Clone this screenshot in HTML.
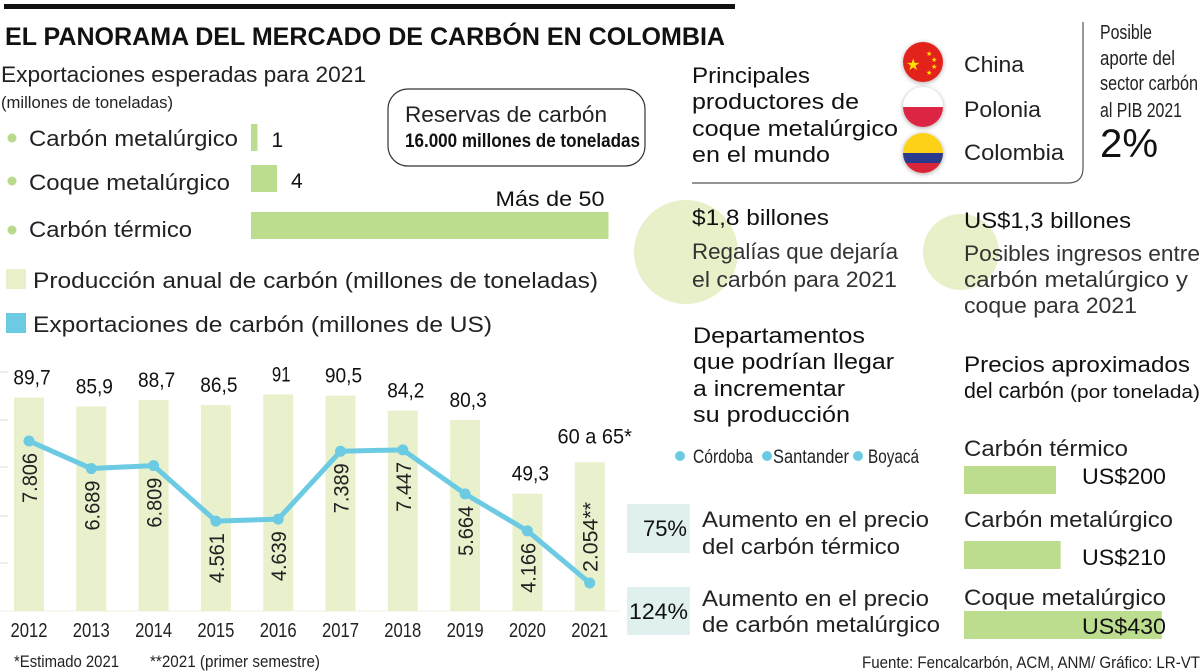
<!DOCTYPE html>
<html><head><meta charset="utf-8"><style>
html,body{margin:0;padding:0;background:#fff;}
svg{display:block;font-family:"Liberation Sans",sans-serif;}
</style></head><body>
<svg id="info" width="1200" height="672" viewBox="0 0 1200 672" xmlns="http://www.w3.org/2000/svg">
<defs>
<clipPath id="c2"><circle cx="923" cy="107" r="20"/></clipPath>
<clipPath id="c3"><circle cx="923" cy="153" r="20"/></clipPath>
<filter id="sh" x="-50%" y="-50%" width="200%" height="200%"><feDropShadow dx="0" dy="1" stdDeviation="2.5" flood-color="#000" flood-opacity="0.35"/></filter>
</defs>
<rect x="4" y="4" width="731" height="5" fill="#111"/>
<text x="5" y="45" font-size="25" font-weight="bold" fill="#111" textLength="720" lengthAdjust="spacingAndGlyphs">EL PANORAMA DEL MERCADO DE CARBÓN EN COLOMBIA</text>

<g>
<text x="1" y="82" font-size="22" fill="#222" textLength="365" lengthAdjust="spacingAndGlyphs">Exportaciones esperadas para 2021</text>
<text x="1" y="108" font-size="17" fill="#222" textLength="172" lengthAdjust="spacingAndGlyphs">(millones de toneladas)</text>
<circle cx="12" cy="138" r="4.5" fill="#b9d98d"/>
<circle cx="12" cy="181" r="4.5" fill="#b9d98d"/>
<circle cx="12" cy="230" r="4.5" fill="#b9d98d"/>
<text x="29" y="146" font-size="22" fill="#222" textLength="209" lengthAdjust="spacingAndGlyphs">Carbón metalúrgico</text>
<text x="29" y="190" font-size="22" fill="#222" textLength="201" lengthAdjust="spacingAndGlyphs">Coque metalúrgico</text>
<text x="29" y="237" font-size="22" fill="#222" textLength="163" lengthAdjust="spacingAndGlyphs">Carbón térmico</text>
<g id="expBars"></g>
</g>

<g>
<rect x="388" y="89" width="257" height="77" rx="20" fill="none" stroke="#333" stroke-width="1.2"/>
<text x="405" y="122" font-size="22" fill="#222" textLength="202" lengthAdjust="spacingAndGlyphs">Reservas de carbón</text>
<text x="405" y="147" font-size="19" font-weight="bold" fill="#111" textLength="235" lengthAdjust="spacingAndGlyphs">16.000 millones de toneladas</text>
</g>

<rect x="6" y="269" width="20" height="20" fill="#e9f1cc"/>
<text x="33" y="288" font-size="22" fill="#222" textLength="565" lengthAdjust="spacingAndGlyphs">Producción anual de carbón (millones de toneladas)</text>
<rect x="6" y="313" width="20" height="20" fill="#6ccbe2"/>
<text x="33" y="332" font-size="22" fill="#222" textLength="459" lengthAdjust="spacingAndGlyphs">Exportaciones de carbón  (millones de US)</text>

<g id="chart"></g>
<text x="14" y="667" font-size="17" fill="#222" textLength="105" lengthAdjust="spacingAndGlyphs">*Estimado 2021</text>
<text x="150" y="667" font-size="17" fill="#222" textLength="170" lengthAdjust="spacingAndGlyphs">**2021 (primer semestre)</text>

<g>
<text font-size="22" fill="#111">
<tspan x="692" y="83" textLength="118" lengthAdjust="spacingAndGlyphs">Principales</tspan>
<tspan x="692" y="109" textLength="167" lengthAdjust="spacingAndGlyphs">productores de</tspan>
<tspan x="692" y="136" textLength="206" lengthAdjust="spacingAndGlyphs">coque metalúrgico</tspan>
<tspan x="692" y="162" textLength="138" lengthAdjust="spacingAndGlyphs">en el mundo</tspan></text>
<g filter="url(#sh)"><circle cx="923" cy="62" r="20" fill="#e3221f"/></g>
<text x="906" y="70" font-size="16" fill="#ffe000">★</text>
<text x="926" y="56" font-size="7" fill="#ffe000">★</text><text x="931" y="62" font-size="7" fill="#ffe000">★</text><text x="931" y="69" font-size="7" fill="#ffe000">★</text><text x="926" y="75" font-size="7" fill="#ffe000">★</text>
<g filter="url(#sh)"><circle cx="923" cy="107" r="20" fill="#fff"/></g>
<rect x="900" y="107" width="46" height="21" fill="#dc2443" clip-path="url(#c2)"/>
<g filter="url(#sh)"><circle cx="923" cy="153" r="20" fill="#fcd116"/></g>
<rect x="900" y="153" width="46" height="10" fill="#2a3a8c" clip-path="url(#c3)"/>
<rect x="900" y="163" width="46" height="12" fill="#d8253a" clip-path="url(#c3)"/>
<text x="964" y="72" font-size="22" fill="#222" textLength="60" lengthAdjust="spacingAndGlyphs">China</text>
<text x="964" y="117" font-size="22" fill="#222" textLength="77" lengthAdjust="spacingAndGlyphs">Polonia</text>
<text x="964" y="160" font-size="22" fill="#222" textLength="100" lengthAdjust="spacingAndGlyphs">Colombia</text>
<path d="M692 183 H1068 Q1083 183 1083 168 V22" fill="none" stroke="#555" stroke-width="1.2"/>
</g>

<g>
<text font-size="20" fill="#222">
<tspan x="1100" y="39" textLength="52" lengthAdjust="spacingAndGlyphs">Posible</tspan>
<tspan x="1100" y="65" textLength="75" lengthAdjust="spacingAndGlyphs">aporte del</tspan>
<tspan x="1100" y="90" textLength="98" lengthAdjust="spacingAndGlyphs">sector carbón</tspan>
<tspan x="1100" y="117" textLength="82" lengthAdjust="spacingAndGlyphs">al PIB 2021</tspan></text>
<text x="1100" y="157" font-size="40" fill="#111" textLength="58" lengthAdjust="spacingAndGlyphs">2%</text>
</g>

<circle cx="686" cy="252" r="52" fill="#e7f0c8"/>
<circle cx="961" cy="252" r="38" fill="#e7f0c8"/>
<text x="692" y="225" font-size="22" fill="#111" textLength="137" lengthAdjust="spacingAndGlyphs">$1,8 billones</text>
<text font-size="22" fill="#333"><tspan x="692" y="259" textLength="206" lengthAdjust="spacingAndGlyphs">Regalías que dejaría</tspan><tspan x="692" y="287" textLength="205" lengthAdjust="spacingAndGlyphs">el carbón para 2021</tspan></text>
<text x="964" y="228" font-size="22" fill="#111" textLength="167" lengthAdjust="spacingAndGlyphs">US$1,3 billones</text>
<text font-size="22" fill="#333"><tspan x="964" y="261" textLength="236" lengthAdjust="spacingAndGlyphs">Posibles ingresos entre</tspan><tspan x="964" y="287" textLength="224" lengthAdjust="spacingAndGlyphs">carbón metalúrgico y</tspan><tspan x="964" y="313" textLength="173" lengthAdjust="spacingAndGlyphs">coque para 2021</tspan></text>

<text font-size="22" fill="#111">
<tspan x="693" y="343" textLength="172" lengthAdjust="spacingAndGlyphs">Departamentos</tspan>
<tspan x="693" y="369" textLength="201" lengthAdjust="spacingAndGlyphs">que podrían llegar</tspan>
<tspan x="693" y="396" textLength="152" lengthAdjust="spacingAndGlyphs">a incrementar</tspan>
<tspan x="693" y="422" textLength="157" lengthAdjust="spacingAndGlyphs">su producción</tspan></text>
<circle cx="680" cy="456" r="5" fill="#6ccbe2"/>
<text x="693" y="463" font-size="19" fill="#222" textLength="60" lengthAdjust="spacingAndGlyphs">Córdoba</text>
<circle cx="767" cy="456" r="5" fill="#6ccbe2"/>
<text x="773" y="463" font-size="19" fill="#222" textLength="76" lengthAdjust="spacingAndGlyphs">Santander</text>
<circle cx="858" cy="456" r="5" fill="#6ccbe2"/>
<text x="868" y="463" font-size="19" fill="#222" textLength="51" lengthAdjust="spacingAndGlyphs">Boyacá</text>

<rect x="627" y="504" width="63" height="49" fill="#dff0ee"/>
<text x="687" y="536" font-size="22" fill="#111" text-anchor="end">75%</text>
<text font-size="22" fill="#222"><tspan x="702" y="527" textLength="227" lengthAdjust="spacingAndGlyphs">Aumento en el precio</tspan><tspan x="702" y="554" textLength="198" lengthAdjust="spacingAndGlyphs">del carbón térmico</tspan></text>
<rect x="627" y="587" width="63" height="48" fill="#dff0ee"/>
<text x="629" y="619" font-size="22" fill="#111" textLength="59" lengthAdjust="spacingAndGlyphs">124%</text>
<text font-size="22" fill="#222"><tspan x="702" y="606" textLength="227" lengthAdjust="spacingAndGlyphs">Aumento en el precio</tspan><tspan x="702" y="632" textLength="238" lengthAdjust="spacingAndGlyphs">de carbón metalúrgico</tspan></text>

<text x="964" y="372" font-size="22" fill="#111" textLength="226" lengthAdjust="spacingAndGlyphs">Precios aproximados</text>
<text x="964" y="398" font-size="22" fill="#111"><tspan textLength="100" lengthAdjust="spacingAndGlyphs">del carbón</tspan><tspan x="1070" y="398" font-size="18" textLength="130" lengthAdjust="spacingAndGlyphs">(por tonelada)</tspan></text>
<g id="priceBars"></g>

<text x="1200" y="668" font-size="17" fill="#222" text-anchor="end" textLength="338" lengthAdjust="spacingAndGlyphs">Fuente: Fencalcarbón, ACM, ANM/ Gráfico: LR-VT</text>
</svg>
<script>
const NS = "http://www.w3.org/2000/svg";
const years = ["2012","2013","2014","2015","2016","2017","2018","2019","2020","2021"];
const production = [89.7, 85.9, 88.7, 86.5, 91, 90.5, 84.2, 80.3, 49.3, 62.5];
const productionLabels = ["89,7","85,9","88,7","86,5","91","90,5","84,2","80,3","49,3","60 a 65*"];
const exportsUS = [7806, 6689, 6809, 4561, 4639, 7389, 7447, 5664, 4166, 2054];
const exportsLabels = ["7.806","6.689","6.809","4.561","4.639","7.389","7.447","5.664","4.166","2.054**"];
const expCats = ["Carbón metalúrgico","Coque metalúrgico","Carbón térmico"];
const expValues = [1, 4, 55];
const expLabels = ["1","4","Más de 50"];
const priceCats = ["Carbón térmico","Carbón metalúrgico","Coque metalúrgico"];
const priceValues = [200, 210, 430];
const priceLabels = ["US$200","US$210","US$430"];

function mk(tag, parent){ const e = document.createElementNS(NS, tag); parent.appendChild(e); return e; }

const chart = document.getElementById("chart");
const x0 = 29, step = 62.3, baseY = 611;
const xPos = i => x0 + i * step;
const yProd = v => baseY - v * 2.38;
const yExp = v => 633.7 - v * 0.02469;
[372,420,467,516,563,611].forEach(gy => {
  const t = mk("line", chart);
  
  
  t.setAttribute("x1", 0); t.setAttribute("x2", gy===611?620:8);
  t.setAttribute("y1", gy); t.setAttribute("y2", gy);
  t.setAttribute("stroke", gy===611?"#eef3dc":"#ddd"); t.setAttribute("stroke-width", 1);
});
production.forEach((v, i) => {
  const r = mk("rect", chart);
  
  
  r.setAttribute("x", xPos(i) - 15); r.setAttribute("width", 30);
  r.setAttribute("y", yProd(v)); r.setAttribute("height", baseY - yProd(v));
  r.setAttribute("fill", "#e9f1cc");
  const t = mk("text", chart);
  
  
  t.setAttribute("x", xPos(i) + (i===9?5:3)); t.setAttribute("y", yProd(v) - (i===9?19:13));
  t.setAttribute("text-anchor", "middle"); t.setAttribute("font-size", "21");
  t.setAttribute("fill", "#111");
  t.setAttribute("textLength", productionLabels[i].length * 9.3);
  t.setAttribute("lengthAdjust", "spacingAndGlyphs");
  t.textContent = productionLabels[i];
  const yl = mk("text", chart);
  
  
  yl.setAttribute("x", xPos(i)); yl.setAttribute("y", 637);
  yl.setAttribute("text-anchor", "middle"); yl.setAttribute("font-size", "20");
  yl.setAttribute("fill", "#222"); yl.setAttribute("textLength", "37");
  yl.setAttribute("lengthAdjust", "spacingAndGlyphs");
  yl.textContent = years[i];
});
const pl = mk("polyline", chart);


pl.setAttribute("points", exportsUS.map((v, i) => xPos(i) + "," + yExp(v)).join(" "));
pl.setAttribute("fill", "none"); pl.setAttribute("stroke", "#6ccbe2");
pl.setAttribute("stroke-width", "5"); pl.setAttribute("stroke-linejoin", "round");
exportsUS.forEach((v, i) => {
  const c = mk("circle", chart);
  
  
  c.setAttribute("cx", xPos(i)); c.setAttribute("cy", yExp(v)); c.setAttribute("r", 5.5);
  c.setAttribute("fill", "#6ccbe2");
  const cy = i === 9 ? yExp(v) - 46 : yExp(v) + 37;
  const len = exportsLabels[i].length * 10;
  const t = mk("text", chart);
  
  
  t.setAttribute("transform", "translate(" + (xPos(i) + 8) + "," + cy + ") rotate(-90)");
  t.setAttribute("text-anchor", "middle"); t.setAttribute("font-size", "21");
  t.setAttribute("fill", "#222"); t.setAttribute("textLength", len);
  t.setAttribute("lengthAdjust", "spacingAndGlyphs");
  t.textContent = exportsLabels[i];
});

const eb = document.getElementById("expBars");
const eY = [124, 165, 212];
expValues.forEach((v, i) => {
  const r = mk("rect", eb);
  
  
  r.setAttribute("x", 251); r.setAttribute("y", eY[i]);
  r.setAttribute("width", v * 6.5); r.setAttribute("height", 27);
  r.setAttribute("fill", "#bcdc8e");
  const t = mk("text", eb);
  
  
  t.setAttribute("font-size", "21"); t.setAttribute("fill", "#111");
  if (i === 2) {
    t.setAttribute("x", 251 + v * 6.5 - 4); t.setAttribute("y", 206);
    t.setAttribute("text-anchor", "end"); t.setAttribute("textLength", "109");
    t.setAttribute("lengthAdjust", "spacingAndGlyphs");
  } else {
    t.setAttribute("x", 251 + v * 6.5 + 14); t.setAttribute("y", eY[i] + 23);
  }
  t.textContent = expLabels[i];
});

const pb = document.getElementById("priceBars");
const pLabY = [456, 527, 605], pBarY = [466, 541, 611], pValY = [484, 565, 634];
priceValues.forEach((v, i) => {
  const l = mk("text", pb);
  
  
  l.setAttribute("x", 964); l.setAttribute("y", pLabY[i]);
  l.setAttribute("font-size", "22"); l.setAttribute("fill", "#222");
  l.setAttribute("textLength", [164, 209, 202][i]);
  l.setAttribute("lengthAdjust", "spacingAndGlyphs");
  l.textContent = priceCats[i];
  const r = mk("rect", pb);
  
  
  r.setAttribute("x", 964); r.setAttribute("y", pBarY[i]);
  r.setAttribute("width", v * 0.46); r.setAttribute("height", 28);
  r.setAttribute("fill", "#bcdc8e");
  const t = mk("text", pb);
  
  
  t.setAttribute("x", 1166); t.setAttribute("y", pValY[i]);
  t.setAttribute("text-anchor", "end"); t.setAttribute("font-size", "22");
  t.setAttribute("fill", "#111"); t.setAttribute("textLength", "84");
  t.setAttribute("lengthAdjust", "spacingAndGlyphs");
  t.textContent = priceLabels[i];
});
</script>
</body></html>
